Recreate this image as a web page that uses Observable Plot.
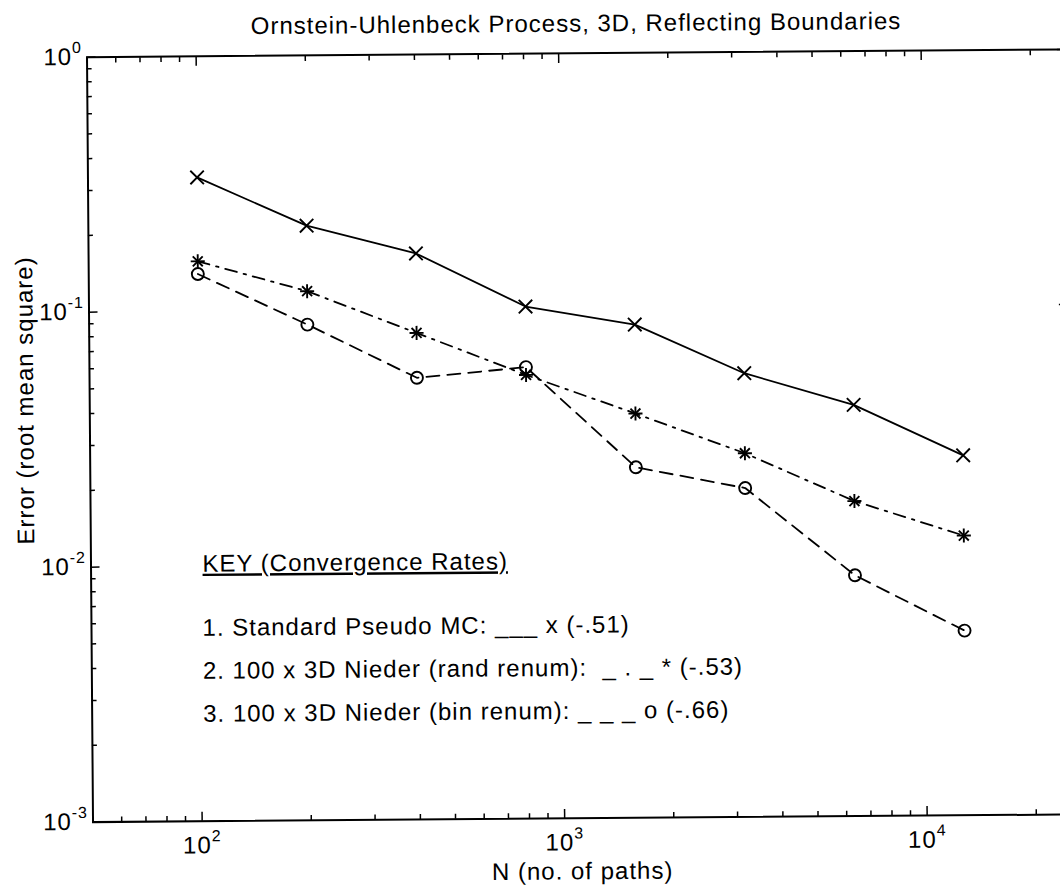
<!DOCTYPE html>
<html>
<head>
<meta charset="utf-8">
<script src="https://cdn.jsdelivr.net/npm/d3@7"></script>
<script src="https://cdn.jsdelivr.net/npm/@observablehq/plot@0.6"></script>
<style>
html, body { margin: 0; padding: 0; background: #fff; overflow: hidden; }
#chart { width: 1060px; height: 894px; overflow: hidden; background: #fff; }
</style>
</head>
<body>
<div id="chart"></div>
<script>
// ---- data ----
const paths = [100, 200, 400, 800, 1600, 3200, 6400, 12800];
const errPseudoMC  = [0.335, 0.215, 0.166, 0.102, 0.086, 0.055, 0.041, 0.0258];
const errRandRenum = [0.157, 0.119, 0.081, 0.055, 0.0385, 0.0267, 0.0172, 0.0125];
const errBinRenum  = [0.140, 0.088, 0.054, 0.059, 0.0237, 0.0195, 0.0088, 0.0053];
const seriesNames = ["Standard Pseudo MC", "100 x 3D Nieder (rand renum)", "100 x 3D Nieder (bin renum)"];

const xMajorTicks = [100, 1000, 10000];
const xMinorTicks = [50, 60, 70, 80, 90, 200, 300, 400, 500, 600, 700, 800, 900,
                     2000, 3000, 4000, 5000, 6000, 7000, 8000, 9000, 20000];
const yMajorTicks = [0.001, 0.01, 0.1, 1];
const yMinorTicks = [0.002, 0.003, 0.004, 0.005, 0.006, 0.007, 0.008, 0.009,
                     0.02, 0.03, 0.04, 0.05, 0.06, 0.07, 0.08, 0.09,
                     0.2, 0.3, 0.4, 0.5, 0.6, 0.7, 0.8, 0.9];

const titleText = "Ornstein-Uhlenbeck Process, 3D, Reflecting Boundaries";
const xLabel = "N (no. of paths)";
const yLabel = "Error (root mean square)";
const keyTitle = "KEY (Convergence Rates)";
const keyRows = [
  "1. Standard Pseudo MC: ___ x (-.51)",
  "2. 100 x 3D Nieder (rand renum):  _ . _ * (-.53)",
  "3. 100 x 3D Nieder (bin renum): _ _ _ o (-.66)"
];

// ---- table built from the arrays ----
const seriesValues = [errPseudoMC, errRandRenum, errBinRenum];
const rows = [];
seriesValues.forEach((vals, s) => vals.forEach((v, i) => rows.push({series: seriesNames[s], N: paths[i], err: v})));
const bySeries = s => rows.filter(d => d.series === seriesNames[s]);

// marker layers per series (MATLAB "*" = plus + times overlaid)
const markerLayers = [
  [{symbol: "times", r: 6.2}],
  [{symbol: "plus", r: 4.6}, {symbol: "times", r: 4.6}],
  [{symbol: "circle", r: 6}]
];
const dashes = [null, "12,7,2.5,7", "13,8"];

const W = 1070, H = 894;
const mL = 89.5, mR = 2.1, mT = 52.8, mB = 76.2;
const FS = 24;

function tickMarks(data, anchor, len) {
  const o = {anchor, tickSize: len, fill: "none", stroke: "black", strokeWidth: 1.5, label: null};
  if (anchor === "bottom") o.dy = -len;
  if (anchor === "top") o.dy = len;
  if (anchor === "left") o.dx = len;
  if (anchor === "right") o.dx = -len;
  return (anchor === "top" || anchor === "bottom") ? Plot.axisX(data, o) : Plot.axisY(data, o);
}
const fmt = d => "10^" + Math.round(Math.log10(d));

const marks = [];
["bottom", "top"].forEach(a => { marks.push(tickMarks(xMajorTicks, a, 9)); marks.push(tickMarks(xMinorTicks, a, 5)); });
["left", "right"].forEach(a => { marks.push(tickMarks(yMajorTicks, a, 9)); marks.push(tickMarks(yMinorTicks, a, 5)); });
marks.push(Plot.axisX(xMajorTicks, {anchor: "bottom", tickSize: 0, tickPadding: 15, tickFormat: fmt, fontSize: FS, fill: "black", label: null}));
marks.push(Plot.axisY(yMajorTicks, {anchor: "left", tickSize: 0, tickPadding: 5, tickFormat: fmt, fontSize: FS, fill: "black", label: null}));
marks.push(Plot.frame({stroke: "black", strokeWidth: 2}));

markerLayers.forEach((layers, s) => {
  marks.push(Plot.line(bySeries(s), {x: "N", y: "err", stroke: "black", strokeWidth: 1.8,
    strokeDasharray: dashes[s] || undefined}));
  layers.forEach(l => marks.push(Plot.dot(bySeries(s), {x: "N", y: "err", symbol: l.symbol, r: l.r,
    stroke: "black", fill: "none", strokeWidth: 1.9})));
});

// texts
marks.push(Plot.text([titleText], {text: d => d, frameAnchor: "top", dy: -21.8, lineAnchor: "bottom", textAnchor: "middle", fontSize: FS, fill: "black"}));
marks.push(Plot.text([xLabel], {text: d => d, frameAnchor: "bottom", dy: 61, lineAnchor: "bottom", textAnchor: "middle", fontSize: FS, fill: "black"}));
marks.push(Plot.text([yLabel], {text: d => d, frameAnchor: "left", rotate: -90, dx: -64.2, dy: -39.7, lineAnchor: "middle", textAnchor: "middle", fontSize: FS, fill: "black"}));
marks.push(Plot.text([keyTitle], {text: d => d, frameAnchor: "top-left", dx: 111.5, dy: 515.4, lineAnchor: "bottom", textAnchor: "start", fontSize: FS, fill: "black"}));
keyRows.forEach((r, i) => {
  marks.push(Plot.text([r], {text: d => d, frameAnchor: "top-left", dx: 111, dy: 579.5 + i * 43, lineAnchor: "bottom", textAnchor: "start", fontSize: FS, fill: "black"}));
});

const svg = Plot.plot({
  width: W, height: H,
  marginLeft: mL, marginRight: mR, marginTop: mT, marginBottom: mB,
  style: {fontFamily: "'Liberation Sans', Arial, Helvetica, sans-serif", fontSize: "24px", letterSpacing: "1px",
          background: "white", maxWidth: "none", height: H + "px", color: "black",
          transform: "rotate(-0.45deg)", transformOrigin: "578.7px 435.3px"},
  x: {type: "log", domain: [50, 25000]},
  y: {type: "log", domain: [0.001, 1]},
  marks
});

// superscript exponents on tick labels, underline on the key heading
const NS = "http://www.w3.org/2000/svg";
svg.querySelectorAll("text").forEach(t => {
  const m = /^10\^(-?\d+)$/.exec(t.textContent);
  if (m) {
    t.textContent = "";
    const a = document.createElementNS(NS, "tspan"); a.textContent = "10"; t.appendChild(a);
    const b = document.createElementNS(NS, "tspan"); b.setAttribute("dy", "-12"); b.setAttribute("font-size", "16"); b.textContent = m[1]; t.appendChild(b);
  } else if (t.textContent === keyTitle) {
    t.setAttribute("style", "text-decoration: underline; text-underline-offset: 9px; text-decoration-thickness: 1.5px;");
  }
});

document.getElementById("chart").appendChild(svg);
</script>
</body>
</html>
